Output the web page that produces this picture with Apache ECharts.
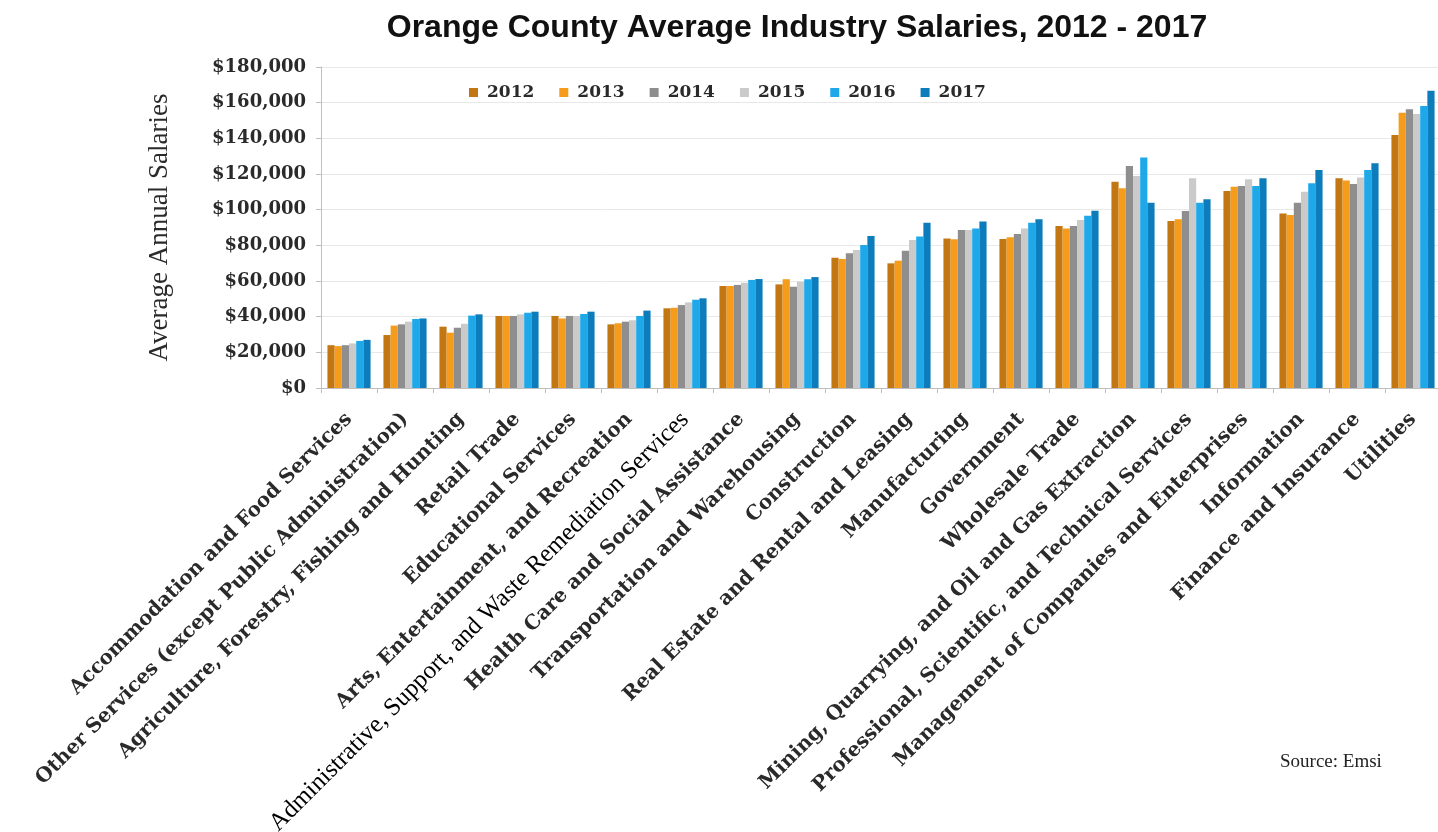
<!DOCTYPE html>
<html>
<head>
<meta charset="utf-8">
<script src="https://cdn.jsdelivr.net/npm/echarts@6/dist/echarts.min.js"></script>
<style>
html,body{margin:0;padding:0;background:#fff;}
#chart{width:1438px;height:832px;}
</style>
</head>
<body>
<div id="chart"></div>
<script>
const categories = [
  "Accommodation and Food Services",
  "Other Services (except Public Administration)",
  "Agriculture, Forestry, Fishing and Hunting",
  "Retail Trade",
  "Educational Services",
  "Arts, Entertainment, and Recreation",
  "Administrative, Support, and Waste Remediation Services",
  "Health Care and Social Assistance",
  "Transportation and Warehousing",
  "Construction",
  "Real Estate and Rental and Leasing",
  "Manufacturing",
  "Government",
  "Wholesale Trade",
  "Mining, Quarrying, and Oil and Gas Extraction",
  "Professional, Scientific, and Technical Services",
  "Management of Companies and Enterprises",
  "Information",
  "Finance and Insurance",
  "Utilities"
];
const years = ["2012", "2013", "2014", "2015", "2016", "2017"];
const v2012 = [24000, 29700, 34400, 40400, 40400, 35700, 44700, 57200, 58100, 73100, 69900, 83900, 83600, 90800, 115700, 93600, 110500, 97900, 117600, 141900];
const v2013 = [23500, 35000, 31000, 40400, 39000, 36300, 45000, 57200, 61000, 72300, 71400, 83400, 84500, 89500, 112000, 94600, 112900, 97000, 116300, 154400];
const v2014 = [24000, 35700, 33800, 40400, 40400, 37200, 46500, 57800, 56800, 75500, 77000, 88600, 86400, 90800, 124500, 99300, 113300, 103900, 114400, 156300];
const v2015 = [25000, 37200, 36000, 41300, 40400, 38000, 48000, 59000, 59600, 77400, 83000, 88600, 89500, 94200, 118900, 117600, 117000, 110000, 118100, 153600];
const v2016 = [26400, 38700, 40600, 42200, 41500, 40400, 49500, 60600, 61000, 80200, 84900, 89500, 92700, 96600, 129300, 103900, 113300, 114800, 122200, 158100];
const v2017 = [27000, 39000, 41300, 42800, 42800, 43400, 50300, 61100, 62200, 85200, 92700, 93300, 94600, 99400, 103900, 105800, 117600, 122200, 126000, 166700];
const seriesValues = [v2012, v2013, v2014, v2015, v2016, v2017];
const colors = ["#C27712", "#F59C1C", "#8E8E8E", "#CACACA", "#1FA8E9", "#0D7CBA"];

const chart = echarts.init(document.getElementById('chart'));
const catData = categories.map(function (c, i) {
  if (i === 6) {
    return { value: c, textStyle: { fontFamily: 'Liberation Serif', fontWeight: 'normal', fontSize: 25, color: '#000' } };
  }
  return c;
});
chart.setOption({
  animation: false,
  backgroundColor: '#fff',
  title: {
    text: 'Orange County Average Industry Salaries, 2012 - 2017',
    left: 792, textAlign: 'center', top: 7,
    textStyle: { fontFamily: 'Liberation Sans', fontWeight: 'bold', fontSize: 32, color: '#111' }
  },
  legend: {
    data: years,
    left: 464, top: 79,
    itemWidth: 9, itemHeight: 9, itemGap: 25,
    icon: 'rect',
    textStyle: { fontFamily: 'DejaVu Serif', fontWeight: 'bold', fontSize: 17, color: '#2a2a2a', padding: [0, 0, 0, 4] }
  },
  graphic: [{
    type: 'text', left: 1280, top: 753,
    style: { text: 'Source: Emsi', font: '19px "Liberation Serif"', fill: '#222' }
  }],
  grid: { left: 321, top: 67, width: 1120, height: 321, containLabel: false, outerBoundsMode: 'none' },
  xAxis: {
    type: 'category',
    data: catData,
    axisLine: { lineStyle: { color: '#bfbfbf' } },
    axisTick: { show: true, length: 5, lineStyle: { color: '#bfbfbf' } },
    axisLabel: {
      rotate: 45, interval: 0, margin: 28,
      fontFamily: 'DejaVu Serif', fontWeight: 'bold', fontSize: 20, color: '#2a2a2a'
    }
  },
  yAxis: {
    type: 'value', min: 0, max: 180000, interval: 20000,
    name: 'Average Annual Salaries',
    nameLocation: 'middle', nameRotate: 90, nameGap: 148,
    nameTextStyle: { fontFamily: 'Liberation Serif', fontSize: 27, color: '#2a2a2a' },
    axisLine: { show: true, lineStyle: { color: '#bfbfbf' } },
    axisTick: { show: true, length: 5, lineStyle: { color: '#bfbfbf' } },
    splitLine: { lineStyle: { color: '#e8e8e8' } },
    axisLabel: {
      margin: 15,
      fontFamily: 'DejaVu Serif', fontWeight: 'bold', fontSize: 18, color: '#2a2a2a',
      formatter: function (v) { return '$' + v.toLocaleString('en-US'); }
    }
  },
  series: years.map(function (y, i) {
    return {
      name: y, type: 'bar', data: seriesValues[i],
      itemStyle: { color: colors[i] },
      barGap: '0%', barCategoryGap: '23%'
    };
  })
});
</script>
</body>
</html>
